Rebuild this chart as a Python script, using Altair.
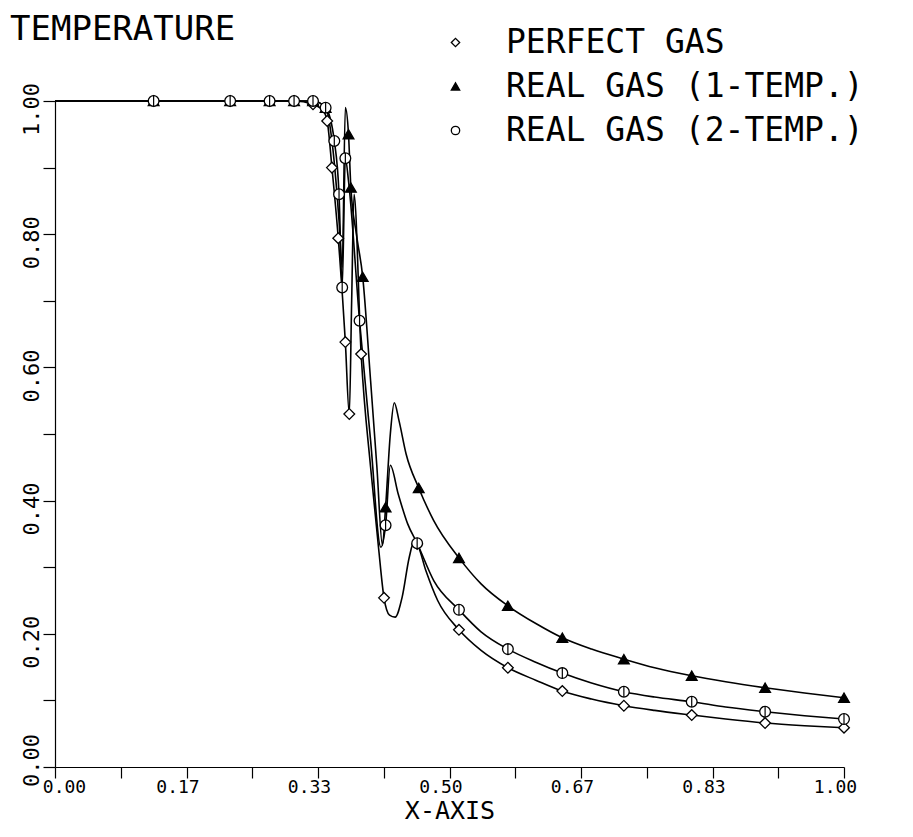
import altair as alt
import pandas as pd

SERIES = ["PERFECT GAS", "REAL GAS (1-TEMP.)", "REAL GAS (2-TEMP.)"]

# ---- line traces ----
PG_LINE_X = [0.0, 0.125, 0.222, 0.272, 0.303, 0.327, 0.340, 0.345, 0.351, 0.359, 0.368, 0.373, 0.376,
             0.379, 0.388, 0.400, 0.410, 0.417, 0.424, 0.431, 0.440, 0.449, 0.455, 0.459, 0.470, 0.485,
             0.512, 0.540, 0.574, 0.610, 0.643, 0.680, 0.721, 0.760, 0.807, 0.850, 0.900, 0.950, 1.000]
PG_LINE_Y = [1.0, 1.0, 1.0, 1.0, 1.0, 0.995, 0.985, 0.97, 0.90, 0.794, 0.638, 0.53, 0.70,
             0.86, 0.62, 0.45, 0.33, 0.254, 0.228, 0.225, 0.255, 0.315, 0.338, 0.335, 0.295, 0.25,
             0.206, 0.175, 0.149, 0.130, 0.114, 0.102, 0.092, 0.085, 0.078, 0.072, 0.066, 0.062, 0.059]

RG1_LINE_X = [0.0, 0.125, 0.222, 0.272, 0.303, 0.327, 0.343, 0.352, 0.360, 0.364, 0.368, 0.372, 0.375,
              0.382, 0.390, 0.400, 0.408, 0.415, 0.419, 0.425, 0.430, 0.436, 0.445, 0.461, 0.480, 0.512,
              0.540, 0.574, 0.610, 0.643, 0.680, 0.721, 0.760, 0.807, 0.850, 0.900, 0.950, 1.000]
RG1_LINE_Y = [1.0, 1.0, 1.0, 1.0, 1.0, 1.0, 0.99, 0.93, 0.82, 0.75, 0.99, 0.95, 0.87,
              0.80, 0.736, 0.58, 0.45, 0.333, 0.39, 0.50, 0.547, 0.52, 0.47, 0.419, 0.37, 0.314,
              0.275, 0.242, 0.215, 0.194, 0.177, 0.162, 0.149, 0.137, 0.128, 0.119, 0.111, 0.104]

RG2_LINE_X = [0.0, 0.125, 0.222, 0.272, 0.303, 0.327, 0.343, 0.354, 0.360, 0.364, 0.368, 0.372, 0.386,
              0.400, 0.413, 0.419, 0.425, 0.435, 0.447, 0.459, 0.480, 0.512, 0.540, 0.574, 0.610,
              0.643, 0.680, 0.721, 0.760, 0.807, 0.850, 0.900, 0.950, 1.000]
RG2_LINE_Y = [1.0, 1.0, 1.0, 1.0, 1.0, 1.0, 0.99, 0.94, 0.86, 0.72, 0.914, 0.88, 0.67,
              0.49, 0.33, 0.363, 0.453, 0.41, 0.365, 0.336, 0.28, 0.236, 0.203, 0.177, 0.157,
              0.141, 0.126, 0.113, 0.105, 0.098, 0.090, 0.083, 0.077, 0.072]

# ---- plotted symbols ----
PG_PTS_X = [0.125, 0.222, 0.272, 0.303, 0.327, 0.345, 0.351, 0.359, 0.368, 0.373, 0.388, 0.417,
            0.459, 0.512, 0.574, 0.643, 0.721, 0.807, 0.900, 1.000]
PG_PTS_Y = [1.0, 1.0, 1.0, 1.0, 0.995, 0.97, 0.90, 0.794, 0.638, 0.53, 0.62, 0.254,
            0.335, 0.206, 0.149, 0.114, 0.092, 0.078, 0.066, 0.059]

RG1_PTS_X = [0.125, 0.222, 0.272, 0.303, 0.327, 0.343, 0.372, 0.375, 0.390, 0.419, 0.461, 0.512,
             0.574, 0.643, 0.721, 0.807, 0.900, 1.000]
RG1_PTS_Y = [1.0, 1.0, 1.0, 1.0, 1.0, 0.99, 0.95, 0.87, 0.736, 0.39, 0.419, 0.314,
             0.242, 0.194, 0.162, 0.137, 0.119, 0.104]

RG2_PTS_X = [0.125, 0.222, 0.272, 0.303, 0.327, 0.343, 0.354, 0.360, 0.364, 0.368, 0.386, 0.419,
             0.459, 0.512, 0.574, 0.643, 0.721, 0.807, 0.900, 1.000]
RG2_PTS_Y = [1.0, 1.0, 1.0, 1.0, 1.0, 0.99, 0.94, 0.86, 0.72, 0.914, 0.67, 0.363,
             0.336, 0.236, 0.177, 0.141, 0.113, 0.098, 0.083, 0.072]

X_TICKS = [i / 12 for i in range(13)]
Y_TICKS = [i / 10 for i in range(11)]

SHAPES = ["diamond", "triangle-up", "circle"]
FILLS = ["white", "black", "white"]
STROKES = ["black", "black", "black"]

FONT = "DejaVu Sans Mono"


def frame(xs, ys, name):
    return pd.DataFrame({"x": xs, "y": ys, "series": name})


lines = pd.concat([
    frame(PG_LINE_X, PG_LINE_Y, SERIES[0]),
    frame(RG1_LINE_X, RG1_LINE_Y, SERIES[1]),
    frame(RG2_LINE_X, RG2_LINE_Y, SERIES[2]),
])
points = pd.concat([
    frame(PG_PTS_X, PG_PTS_Y, SERIES[0]),
    frame(RG1_PTS_X, RG1_PTS_Y, SERIES[1]),
    frame(RG2_PTS_X, RG2_PTS_Y, SERIES[2]),
])
circ = frame(RG2_PTS_X, RG2_PTS_Y, SERIES[2])

x_enc = alt.X(
    "x:Q",
    scale=alt.Scale(domain=[0, 1], nice=False, zero=False),
    axis=alt.Axis(
        values=X_TICKS,
        labelExpr="round(datum.value*12) % 2 == 0 ? format(datum.value, '.2f') : ''",
        title="X-AXIS",
        grid=False,
        tickSize=11,
        labelPadding=0,
        labelOffset={"condition": {"test": "datum.value == 0", "value": 9}, "value": -9},
        labelFont=FONT,
        labelFontSize=18,
        titleFont=FONT,
        titleFontSize=25,
        titleFontWeight="normal",
        titlePadding=2,
        labelFlush=False,
        labelOverlap=False,
    ),
)
y_enc = alt.Y(
    "y:Q",
    scale=alt.Scale(domain=[0, 1], nice=False),
    axis=alt.Axis(
        values=Y_TICKS,
        labelExpr="round(datum.value*10) % 2 == 0 ? format(datum.value, '.2f') : ''",
        title=None,
        grid=False,
        tickSize=12,
        labelAngle=270,
        labelPadding=0,
        labelOffset={"condition": {"test": "datum.value == 0", "value": -7}, "value": 8},
        labelFont=FONT,
        labelFontSize=22,
        labelFlush=False,
        labelOverlap=False,
    ),
)

legend = alt.Legend(
    title=None,
    orient="none",
    legendX=384,
    legendY=-75,
    labelFont=FONT,
    labelFontSize=33,
    labelOffset=34,
    labelLimit=600,
    rowPadding=10,
    symbolSize=70,
    symbolStrokeWidth=1.3,
    padding=0,
)

line_layer = alt.Chart(lines).mark_line(
    color="black", strokeWidth=1.6, interpolate="monotone"
).encode(x=x_enc, y=y_enc, detail="series:N")

point_layer = alt.Chart(points).mark_point(
    filled=True, strokeWidth=1.3, opacity=1, size=115
).encode(
    x="x:Q",
    y="y:Q",
    shape=alt.Shape("series:N", scale=alt.Scale(domain=SERIES, range=SHAPES), legend=legend),
    fill=alt.Fill("series:N", scale=alt.Scale(domain=SERIES, range=FILLS), legend=legend),
    stroke=alt.Stroke("series:N", scale=alt.Scale(domain=SERIES, range=STROKES), legend=legend),
)

bar_layer = alt.Chart(circ).mark_point(
    shape="M0,-1L0,1", stroke="black", strokeWidth=1.2, size=115, opacity=1
).encode(x="x:Q", y="y:Q")

chart = alt.layer(line_layer, point_layer, bar_layer).properties(
    width=789,
    height=666,
    autosize=alt.AutoSizeParams(type="none"),
    padding={"left": 47, "top": 93, "right": 60, "bottom": 62},
    title=alt.TitleParams(
        "TEMPERATURE",
        anchor="start",
        frame="group",
        font=FONT,
        fontSize=34,
        fontWeight="normal",
        color="black",
        dx=-45,
        dy=21,
        offset=0,
    ),
).configure_view(stroke=None).configure_axis(
    domainColor="black", tickColor="black", labelColor="black", titleColor="black",
    domainWidth=1.2, tickWidth=1.2
).configure_legend(labelColor="black")

chart.save("out.html", embed_options={"renderer": "svg", "actions": False})
